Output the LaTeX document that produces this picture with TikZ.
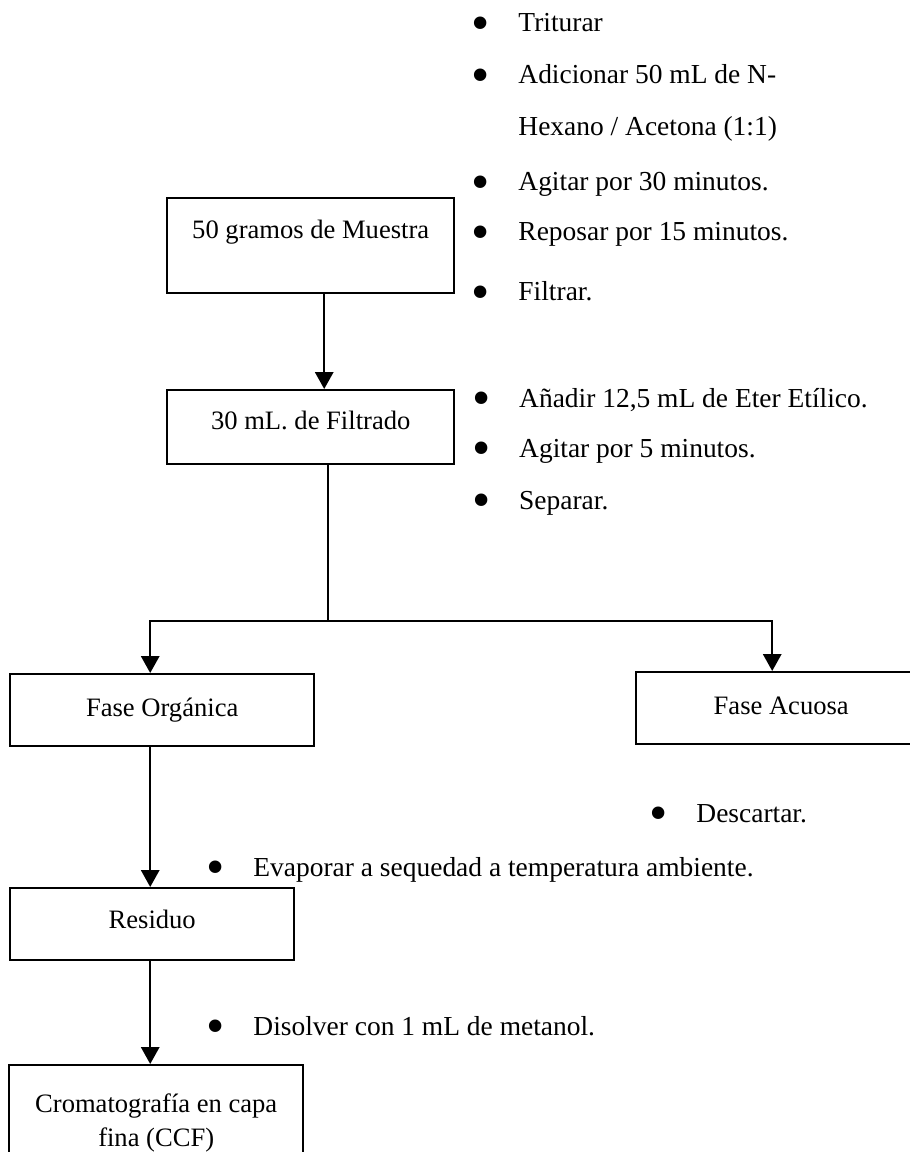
\documentclass[tikz,border=0pt]{standalone}
\usepackage{fontspec}
\setmainfont{Liberation Serif}
\usepackage{tikz}
\usetikzlibrary{arrows.meta, calc}
\newcommand{\boxfont}{\fontsize{12.1pt}{15.4pt}\selectfont}
\newcommand{\stepfont}{\fontsize{12.5pt}{15.4pt}\selectfont}
\newcommand{\bul}{\llap{\makebox[1.2cm]{\raisebox{-4pt}{\scalebox{1.9}{\textbullet}}}}}
\tikzset{
  stepbox/.style={
    draw, line width=1.1pt, inner sep=0pt, anchor=north west,
    font=\boxfont
  },
  steptext/.style={
    inner sep=0pt, anchor=base west, font=\stepfont
  },
  steparrow/.style={
    -{Triangle[length=0.27cm, width=0.29cm]}, line width=1.1pt
  },
  stepline/.style={line width=1.1pt},
}
\begin{document}
\begin{tikzpicture}
  \useasboundingbox (0,0) rectangle (14.544,-18.432);

  % Sample and filtrate
  \node[stepbox, minimum width=4.592cm, text height=0.64cm, text depth=0.88cm]
    (muestra) at (2.656,-3.152) {50 gramos de Muestra};
  \node[stepbox, minimum width=4.592cm, text height=0.624cm, text depth=0.56cm]
    (filtrado) at (2.656,-6.224) {30 mL. de Filtrado};

  % Phases
  \node[stepbox, minimum width=4.864cm, text height=0.672cm, text depth=0.48cm]
    (organica) at (0.144,-10.768) {Fase Orgánica};
  \node[stepbox, minimum width=4.64cm, text height=0.672cm, text depth=0.48cm]
    (acuosa) at (10.16,-10.736) {Fase Acuosa};

  % Residue and TLC
  \node[stepbox, minimum width=4.544cm, text height=0.64cm, text depth=0.512cm]
    (residuo) at (0.144,-14.192) {Residuo};
  \node[stepbox, minimum width=4.704cm, text height=0.752cm, text depth=1.1cm]
    (ccf) at (0.128,-17.024)
    {\begin{tabular}[t]{@{}c@{}}Cromatografía en capa\\ fina (CCF)\end{tabular}};

  % Steps for the sample
  \node[steptext] (tri) at (8.288,-0.512) {\bul Triturar};
  \node[steptext] (adi) at (8.288,-1.344) {\bul Adicionar 50 mL de N-};
  \node[steptext] (hex) at (8.288,-2.176) {Hexano / Acetona (1:1)};
  \node[steptext] (agi) at (8.288,-3.056) {\bul Agitar por 30 minutos.};
  \node[steptext] (rep) at (8.288,-3.856) {\bul Reposar por 15 minutos.};
  \node[steptext] (fil) at (8.288,-4.816) {\bul Filtrar.};

  % Steps for the filtrate
  \node[steptext] (ana) at (8.3,-6.512) {\bul Añadir 12,5 mL de Eter Etílico.};
  \node[steptext] (agc) at (8.3,-7.312) {\bul Agitar por 5 minutos.};
  \node[steptext] (sep) at (8.3,-8.144) {\bul Separar.};

  % Remaining steps
  \node[steptext] (des) at (11.136,-13.152) {\bul Descartar.};
  \node[steptext] (eva) at (4.048,-14.016) {\bul Evaporar a sequedad a temperatura ambiente.};
  \node[steptext] (dis) at (4.048,-16.56) {\bul Disolver con 1 mL de metanol.};

  % Connection arrows
  \draw[steparrow] ([xshift=0.216cm]muestra.south)
    -- ([xshift=0.216cm]muestra.south |- filtrado.north);
  \draw[stepline] ([xshift=0.28cm]filtrado.south) -- ++(0,-2.49) coordinate (split);
  \draw[steparrow] (split) -| ([xshift=-0.192cm]organica.north);
  \draw[steparrow] (split) -| ([xshift=-0.144cm]acuosa.north);
  \draw[steparrow] ([xshift=-0.192cm]organica.south)
    -- ([xshift=-0.192cm]organica.south |- residuo.north);
  \draw[steparrow] ([xshift=-0.032cm]residuo.south)
    -- ([xshift=-0.032cm]residuo.south |- ccf.north);
\end{tikzpicture}
\end{document}
